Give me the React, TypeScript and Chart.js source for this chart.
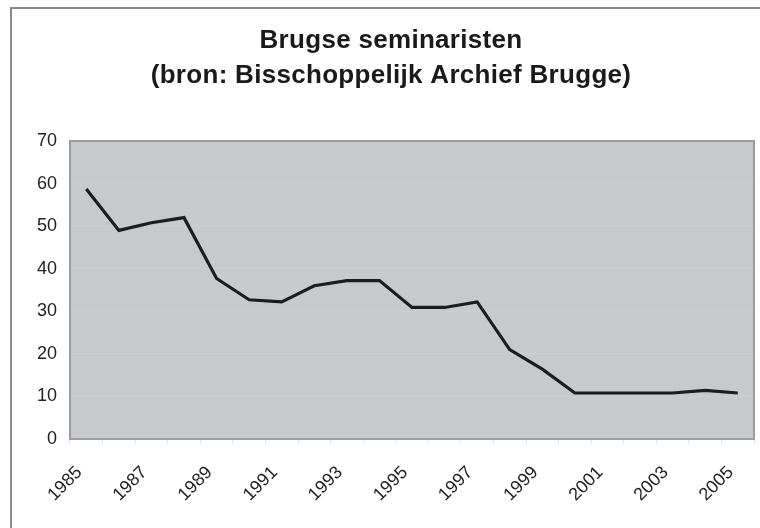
import React, { useEffect, useRef } from "react";
import { Chart, registerables } from "chart.js";

Chart.register(...registerables);

const years: string[] = [
  "1985", "1986", "1987", "1988", "1989", "1990", "1991", "1992", "1993", "1994",
  "1995", "1996", "1997", "1998", "1999", "2000", "2001", "2002", "2003", "2004", "2005",
];
const seminarists: number[] = [
  58.7, 49, 50.8, 52, 37.7, 32.7, 32.2, 36, 37.2, 37.2,
  30.9, 30.9, 32.2, 21, 16.4, 10.8, 10.8, 10.8, 10.8, 11.4, 10.8,
];
const titleLines: string[] = ["Brugse seminaristen", "(bron: Bisschoppelijk Archief Brugge)"];
const yTicks: number[] = [0, 10, 20, 30, 40, 50, 60, 70];

const FONT = "'Liberation Sans', Arial, sans-serif";

const framePlugin = {
  id: "framePlugin",
  beforeDraw(chart: any) {
    const { ctx, chartArea } = chart;
    ctx.save();
    ctx.fillStyle = "#ffffff";
    ctx.fillRect(0, 0, chart.width, chart.height);
    // outer frame
    ctx.strokeStyle = "#8a8a8a";
    ctx.lineWidth = 2;
    ctx.beginPath();
    ctx.moveTo(11, chart.height);
    ctx.lineTo(11, 8);
    ctx.lineTo(chart.width, 8);
    ctx.stroke();
    // plot area
    ctx.fillStyle = "#c8c9cc";
    ctx.fillRect(chartArea.left, chartArea.top, chartArea.right - chartArea.left, chartArea.bottom - chartArea.top);
    // title
    ctx.fillStyle = "#1a1a1a";
    ctx.font = `bold 26px ${FONT}`;
    try {
      (ctx as any).letterSpacing = "0.3px";
    } catch (e) {}
    ctx.textAlign = "center";
    ctx.textBaseline = "alphabetic";
    ctx.fillText(titleLines[0], 391, 48);
    ctx.fillText(titleLines[1], 391, 83);
    ctx.restore();
  },
  afterDatasetsDraw(chart: any) {
    const { ctx, chartArea } = chart;
    ctx.save();
    ctx.strokeStyle = "#9b9c9e";
    ctx.lineWidth = 2;
    ctx.strokeRect(chartArea.left, chartArea.top, chartArea.right - chartArea.left, chartArea.bottom - chartArea.top);
    ctx.restore();
  },
};

export default function App() {
  const ref = useRef<HTMLCanvasElement | null>(null);
  useEffect(() => {
    if (!ref.current) return;
    const chart = new Chart(ref.current, {
      type: "line",
      data: {
        labels: years,
        datasets: [
          {
            data: seminarists,
            borderColor: "#1c1c1c",
            borderWidth: 3.2,
            pointRadius: 0,
            tension: 0,
            fill: false,
          },
        ],
      },
      options: {
        animation: false,
        responsive: false,
        maintainAspectRatio: false,
        layout: { padding: { left: 0, right: 6, top: 141, bottom: 0 } },
        plugins: { legend: { display: false }, title: { display: false }, tooltip: { enabled: false } },
        scales: {
          x: {
            offset: true,
            grid: {
              display: true,
              offset: true,
              drawOnChartArea: false,
              drawTicks: true,
              tickLength: 5,
              color: "#e6e6e6",
            },
            border: { display: false },
            ticks: {
              autoSkip: false,
              maxRotation: 45,
              minRotation: 45,
              padding: 18,
              labelOffset: -7,
              color: "#222222",
              font: { family: FONT, size: 18 },
              callback: (_v: any, i: number) => (i % 2 === 0 ? years[i] : ""),
            },
            afterFit: (s: any) => {
              s.height = 89;
              s.paddingLeft = 0;
              s.paddingRight = 0;
            },
          },
          y: {
            min: 0,
            max: 70,
            afterBuildTicks: (s: any) => {
              s.ticks = yTicks.map((v) => ({ value: v }));
            },
            grid: {
              display: true,
              drawTicks: false,
              color: "rgba(255,255,255,0.09)",
              lineWidth: 1,
            },
            border: { display: false },
            ticks: {
              padding: 13,
              color: "#222222",
              font: { family: FONT, size: 18 },
            },
            afterFit: (s: any) => {
              s.width = 70;
              s.paddingTop = 0;
              s.paddingBottom = 0;
            },
          },
        },
      },
      plugins: [framePlugin],
    });
    return () => chart.destroy();
  }, []);
  return (
    <div style={{ position: "fixed", left: 0, top: 0, width: 760, height: 528 }}>
      <canvas ref={ref} width={760} height={528} style={{ width: 760, height: 528, display: "block" }} />
    </div>
  );
}
